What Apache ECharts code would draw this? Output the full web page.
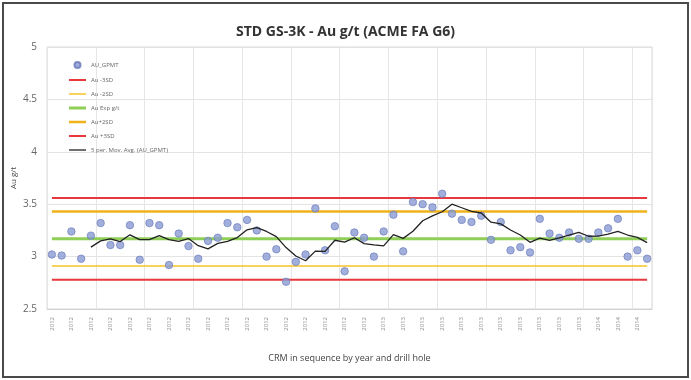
<!DOCTYPE html>
<html><head><meta charset="utf-8">
<script src="https://cdn.jsdelivr.net/npm/echarts@6/dist/echarts.min.js"></script>
<style>html,body{margin:0;padding:0;background:#fff}#c{width:691px;height:380px}</style>
</head><body><div id="c"></div>
<script>
// Category labels (year of each CRM in sequence)
var categories = [
 '2012','2012','2012','2012','2012','2012','2012','2012','2012','2012',
 '2012','2012','2012','2012','2012','2012','2012','2012','2012','2012',
 '2012','2012','2012','2012','2012','2012','2012','2012','2012','2012',
 '2012','2012','2012','2012','2013','2013','2013','2013','2013','2013',
 '2013','2013','2013','2013','2013','2013','2013','2013','2013','2013',
 '2013','2013','2013','2013','2013','2013','2014','2014','2014','2014',
 '2014','2014'];
// AU_GPMT assay values (g/t)
var auGpmt = [
 3.02,3.01,3.24,2.98,3.20,3.32,3.11,3.11,3.30,2.97,
 3.32,3.30,2.92,3.22,3.10,2.98,3.15,3.18,3.32,3.28,
 3.35,3.25,3.00,3.07,2.76,2.95,3.02,3.46,3.06,3.29,
 2.86,3.23,3.18,3.00,3.24,3.40,3.05,3.52,3.50,3.47,
 3.60,3.41,3.35,3.33,3.39,3.16,3.33,3.06,3.09,3.04,
 3.36,3.22,3.18,3.23,3.17,3.17,3.23,3.27,3.36,3.00,
 3.06,2.98];
// Control limits (g/t)
var minus3SD = 2.78, minus2SD = 2.91, expected = 3.17, plus2SD = 3.43, plus3SD = 3.56;
// Y axis ticks
var yTicks = ['2.5','3','3.5','4','4.5','5'];

function flat(v){ return categories.map(function(){ return v; }); }
// 5 period moving average trendline of AU_GPMT
var period = 5;
var movAvg = auGpmt.map(function(v,i){
  if (i < period-1) return null;
  var s = 0; for (var k=i-period+1;k<=i;k++) s += auGpmt[k];
  return +(s/period).toFixed(4);
});

function barIcon(h){ return 'path://M0,0L17,0L17,' + h + 'L0,' + h + 'Z'; }

var chart = echarts.init(document.getElementById('c'));
function refLine(name, val, color, w){
  return {name:name, type:'line', data:flat(val), symbol:'none', z:1,
    lineStyle:{color:color, width:w}, itemStyle:{color:color}, silent:true, animation:false};
}
var cRed = '#e8383d', cYel = '#f7c326', cGrn = '#8fcf57', cOrg = '#f0b21a', cBlk = '#222';
chart.setOption({
  animation:false,
  backgroundColor:'#fff',
  title:{text:'STD GS-3K - Au g/t (ACME FA G6)', left:'center', top:20,
    textStyle:{fontFamily:'Open Sans', fontWeight:'bold', fontSize:14, color:'#333'}},
  graphic:[{type:'rect', shape:{x:3,y:3,width:685,height:374}, style:{fill:'none', stroke:'#4a4a4a', lineWidth:2}, z:100}],
  grid:{left:47, right:39, top:47, bottom:71, show:true, borderColor:'#d9d9d9', borderWidth:1},
  legend:{orient:'vertical', left:64, top:56, itemWidth:17, itemHeight:6, itemGap:8,
    symbolKeepAspect:true,
    textStyle:{fontSize:6, color:'#666', fontFamily:'Open Sans'},
    data:[{name:'AU_GPMT', icon:'circle'},
      {name:'Au -3SD', icon:barIcon(2)},
      {name:'Au -2SD', icon:barIcon(1.5)},
      {name:'Au Exp g/t', icon:barIcon(3)},
      {name:'Au+2SD', icon:barIcon(2.5)},
      {name:'Au +3SD', icon:barIcon(2)},
      {name:'5 per. Mov. Avg. (AU_GPMT)', icon:barIcon(1.3)}]},
  xAxis:{type:'category', data:categories, boundaryGap:true,
    name:'CRM in sequence by year and drill hole', nameLocation:'middle', nameGap:45,
    nameTextStyle:{fontSize:9, color:'#444', fontFamily:'Open Sans'},
    axisLine:{lineStyle:{color:'#d0d0d0'}}, axisTick:{show:false},
    axisLabel:{rotate:90, interval:1, fontSize:6, color:'#888', margin:8, fontFamily:'Open Sans'},
    splitLine:{show:true, interval:4, lineStyle:{color:'#e6e6e6'}}},
  yAxis:{type:'value', min:2.5, max:5, interval:0.5,
    name:'Au g/t', nameLocation:'middle', nameGap:29, nameRotate:90, nameMoveOverlap:false,
    nameTextStyle:{fontSize:8, color:'#444', fontFamily:'Open Sans'},
    axisLine:{show:false}, axisTick:{show:false},
    axisLabel:{fontSize:10, color:'#666', margin:10, fontFamily:'Open Sans',
      formatter:function(v){ var i = Math.round((v-2.5)/0.5); return yTicks[i]; }},
    splitLine:{lineStyle:{color:'#e3e3e3'}}},
  series:[
    {name:'AU_GPMT', type:'scatter', data:auGpmt, symbolSize:7.5, z:3,
      itemStyle:{color:'#8b9bd3', borderColor:'#6577b8', borderWidth:0.8}},
    refLine('Au -3SD', minus3SD, cRed, 2),
    refLine('Au -2SD', minus2SD, cYel, 1.6),
    refLine('Au Exp g/t', expected, cGrn, 3),
    refLine('Au+2SD', plus2SD, cOrg, 2.5),
    refLine('Au +3SD', plus3SD, cRed, 2),
    {name:'5 per. Mov. Avg. (AU_GPMT)', type:'line', data:movAvg, symbol:'none', z:4,
      lineStyle:{color:cBlk, width:1.3}, itemStyle:{color:cBlk}}
  ]
});
</script></body></html>
